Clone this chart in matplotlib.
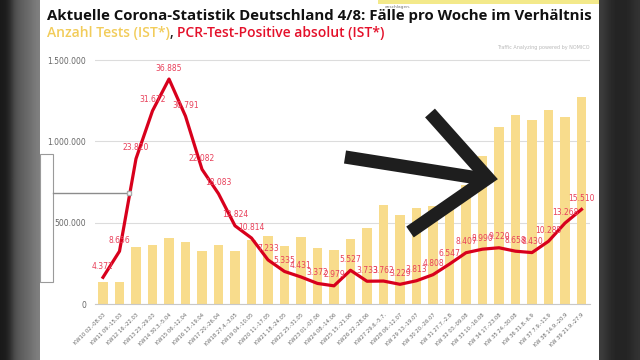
import numpy as np
import matplotlib
matplotlib.use("Agg")
import matplotlib.pyplot as plt
from matplotlib.lines import Line2D
from matplotlib.patches import Rectangle

# Daten
weeks = ["KW10 02.-08.03", "KW11 09.-15.03", "KW12 16.-22.03", "KW13 23.-29.03",
         "KW14 30.3.-5.04", "KW15 06.-12.04", "KW16 13.-19.04", "KW17 20.-26.04",
         "KW18 27.4.-3.05", "KW19 04.-10.05", "KW20 11.-17.05", "KW21 18.-24.05",
         "KW22 25.-31.05", "KW23 01.-07.06", "KW24 08.-14.06", "KW25 15.-21.06",
         "KW26 22.-28.06", "KW27 29.6.-5.7.", "KW28 06.-12.07", "KW 29 13.-19.07",
         "KW 30 20.-26.07", "KW 31 27.7.-2.8", "KW 32 03.-09.08", "KW 33 10.-16.08",
         "KW 34 17.-23.08", "KW 35 24.-30.08", "KW 36 31.8.-6.9", "KW 37 7.9.-13.9",
         "KW 38 14.9.-20.9", "KW 39 21.9.-27.9"]

tests = [135000, 135000, 350000, 360000, 405000, 380000, 325000, 360000, 325000, 395000,
         420000, 357000, 410000, 346000, 335000, 400000, 470000, 610000, 545000, 590000,
         600000, 620000, 730000, 910000, 1090000, 1160000, 1130000, 1190000, 1150000, 1270000]

positives = [4372, 8656, 23820, 31672, 36885, 30791, 22082, 18083, 12824, 10814,
             7233, 5335, 4431, 3372, 2979, 5527, 3733, 3762, 3229, 3813,
             4808, 6547, 8407, 8990, 9220, 8658, 8430, 10285, 13268, 15510]

y_ticks = [0, 500000, 1000000, 1500000]

W, H = 640, 360
fig = plt.figure(figsize=(6.4, 3.6), dpi=100, facecolor="white")


def fx(x):
    return x / W


def fy(y):
    return 1 - y / H


# dunkle Raender (Video)
left = fig.add_axes([0, 0, fx(40), 1])
left.imshow(np.array([[0.1, 0.13, 0.3, 0.36, 0.4, 0.44, 0.5]]), cmap="gray",
            aspect="auto", vmin=0, vmax=1, interpolation="bicubic")
left.axis("off")
right = fig.add_axes([fx(599), 0, fx(41), 1])
right.imshow(np.array([[0.24, 0.17, 0.14, 0.14, 0.15, 0.2]]), cmap="gray",
             aspect="auto", vmin=0, vmax=1, interpolation="bicubic")
right.axis("off")
fig.add_artist(Rectangle((fx(378), fy(4)), fx(221), 4 / H, color="#f3e98a",
                         transform=fig.transFigure, lw=0))

# Diagramm
ax = fig.add_axes([fx(94.75), fy(304), fx(495), (304 - 51.9) / H])
x = np.arange(len(weeks))
ax.bar(x, tests, width=0.6, color="#f8dc8c", zorder=2)
ax.set_xlim(-0.5, len(weeks) - 0.5)
ax.set_ylim(0, 1550000)
ax.set_yticks(y_ticks)
ax.set_yticklabels([f"{v:,}".replace(",", ".") for v in y_ticks])
ax.yaxis.grid(True, color="#dcdcdc", lw=0.8, zorder=0)
ax.tick_params(axis="y", length=0, labelsize=5.5, labelcolor="#666666", pad=6)
ax.set_xticks(x)
ax.set_xticklabels(weeks, rotation=45, ha="right", rotation_mode="anchor",
                   fontsize=3.8, color="#666666")
ax.tick_params(axis="x", length=0, pad=6)
for s in ["top", "right", "left"]:
    ax.spines[s].set_visible(False)
ax.spines["bottom"].set_color("#c8c8c8")
ax.set_facecolor("none")

ax2 = ax.twinx()
ax2.set_ylim(0, 1550000 / 37.5)
ax2.plot(x, positives, color="#d8001c", lw=2.3, zorder=3, solid_joinstyle="round")
for xi, v in zip(x, positives):
    ax2.annotate(f"{v:,}".replace(",", "."), (xi, v), xytext=(0, 11),
                 textcoords="offset pixels", ha="center", va="center",
                 fontsize=5.5, color="#e8405a")
ax2.axis("off")

# Titel
fig.text(fx(47), fy(16), "Aktuelle Corona-Statistik Deutschland 4/8: Fälle pro Woche im Verhältnis",
         fontsize=10.8, family="Open Sans", weight="bold", color="#111111", va="center")
fig.canvas.draw()
r = fig.canvas.get_renderer()
parts = [("Anzahl Tests (IST*)", "#f2cc5a"), (", ", "#222222"),
         ("PCR-Test-Positive absolut (IST*)", "#e4102a")]
cx = fx(47)
for txt, col in parts:
    t = fig.text(cx, fy(33), txt, fontsize=10, family="Open Sans", weight="semibold",
                 color=col, va="center")
    bb = t.get_window_extent(renderer=r)
    cx += bb.width / W

fig.text(fx(590), fy(47), "Traffic Analyzing powered by NOMICO", fontsize=3.5,
         color="#b8b8b8", ha="right", va="center")
fig.text(fx(385), fy(7), "anschlagen.", fontsize=3.2, color="#777777", ha="left", va="center")

# Kasten links (Ueberblendung)
fig.add_artist(Rectangle((fx(40), fy(282)), fx(13), (282 - 154) / H, fill=False,
                         ec="#9a9a9a", lw=0.8, transform=fig.transFigure))
fig.add_artist(Line2D([fx(53), fx(128)], [fy(193), fy(193)], color="#8c8c8c", lw=1.0,
                      transform=fig.transFigure))
fig.add_artist(Line2D([fx(129)], [fy(193)], marker="s", ms=3, mfc="white", mec="#aaaaaa",
                      transform=fig.transFigure))

# Pfeil (Ueberblendung)
arrow_kw = dict(color="#1e1e1e", lw=9.5, solid_capstyle="butt", solid_joinstyle="miter",
                transform=fig.transFigure)
fig.add_artist(Line2D([fx(345), fx(484)], [fy(157), fy(179)], **arrow_kw))
fig.add_artist(Line2D([fx(430), fx(488), fx(410)], [fy(113), fy(178), fy(232)], **arrow_kw))

fig.savefig("out.png", dpi=100, facecolor=fig.get_facecolor())
